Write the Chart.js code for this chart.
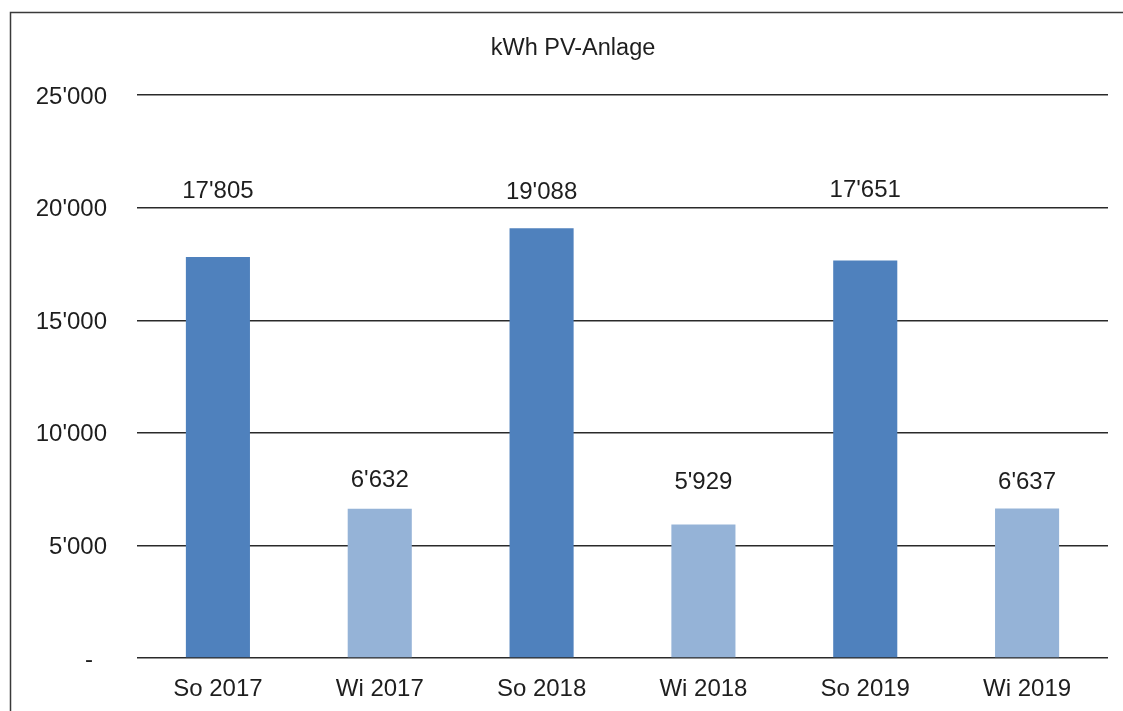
<!DOCTYPE html>
<html>
<head>
<meta charset="utf-8">
<script src="https://cdn.jsdelivr.net/npm/chart.js@4/dist/chart.umd.min.js"></script>
<style>
  html, body { margin: 0; padding: 0; background: #fff; }
  #wrap { width: 1123px; height: 711px; position: relative; }
</style>
</head>
<body>
<div id="wrap"><canvas id="c" width="1123" height="711"></canvas></div>
<script>
// PV production per half-year (kWh)
const categories = ['So 2017', 'Wi 2017', 'So 2018', 'Wi 2018', 'So 2019', 'Wi 2019'];
const production = [17805, 6632, 19088, 5929, 17651, 6637];
const yTicks = [0, 5000, 10000, 15000, 20000, 25000];
const chartTitle = 'kWh PV-Anlage';

const FONT = '"Liberation Sans", Arial, Helvetica, sans-serif';
const TEXT = '#1e1e1e';
const SUMMER = '#4F81BD';
const WINTER = '#95B3D7';

// Swiss thousands separator: 17805 -> 17'805
function swiss(v) {
  return String(Math.round(v)).replace(/\B(?=(\d{3})+(?!\d))/g, "'");
}

// Frame and title drawn behind the chart
const framePlugin = {
  id: 'frame',
  beforeDraw(chart) {
    const ctx = chart.ctx;
    ctx.save();
    ctx.strokeStyle = '#3a3a3a';
    ctx.lineWidth = 1.5;
    ctx.beginPath();
    ctx.moveTo(10.5, chart.height + 2);
    ctx.lineTo(10.5, 12.5);
    ctx.lineTo(chart.width + 2, 12.5);
    ctx.stroke();
    ctx.fillStyle = TEXT;
    ctx.font = '23.5px ' + FONT;
    ctx.textAlign = 'center';
    ctx.textBaseline = 'middle';
    ctx.fillText(chartTitle, 573, 49);
    ctx.restore();
  }
};

// Value labels above each bar; lift is the gap in px from bar top to label centre
const valueLabels = {
  id: 'valueLabels',
  afterDatasetsDraw(chart, args, opts) {
    const ctx = chart.ctx;
    const meta = chart.getDatasetMeta(0);
    ctx.save();
    ctx.fillStyle = TEXT;
    ctx.font = '24px ' + FONT;
    ctx.textAlign = 'center';
    ctx.textBaseline = 'middle';
    meta.data.forEach((bar, i) => {
      const v = chart.data.datasets[0].data[i];
      ctx.fillText(swiss(v), bar.x, bar.y - opts.lift[i]);
    });
    ctx.restore();
  }
};

new Chart(document.getElementById('c'), {
  type: 'bar',
  data: {
    labels: categories,
    datasets: [{
      data: production,
      backgroundColor: categories.map(c => c.startsWith('So') ? SUMMER : WINTER),
      borderWidth: 0,
      categoryPercentage: 1,
      barPercentage: 0.396
    }]
  },
  options: {
    responsive: false,
    animation: false,
    layout: { padding: { top: 95, right: 15, bottom: 0, left: 0 } },
    plugins: {
      legend: { display: false },
      title: { display: false },
      tooltip: { enabled: false },
      valueLabels: { lift: [66, 28, 36, 42, 70, 26] }
    },
    scales: {
      x: {
        grid: { display: false, drawTicks: false },
        border: { display: false },
        ticks: {
          color: TEXT,
          font: { family: FONT, size: 24 },
          padding: 17,
          maxRotation: 0
        },
        afterFit(scale) { scale.height = 53; }
      },
      y: {
        min: 0,
        max: 25000,
        afterBuildTicks(scale) { scale.ticks = yTicks.map(v => ({ value: v })); },
        grid: { color: '#2a2a2a', lineWidth: 1.4, drawTicks: false },
        border: { display: false },
        ticks: {
          color: TEXT,
          font: { family: FONT, size: 24 },
          padding: 30,
          labelOffset: 2,
          callback: v => v === 0 ? '-\u2002\u200A' : swiss(v)
        },
        afterFit(scale) { scale.width = 137; }
      }
    }
  },
  plugins: [framePlugin, valueLabels]
});
</script>
</body>
</html>
